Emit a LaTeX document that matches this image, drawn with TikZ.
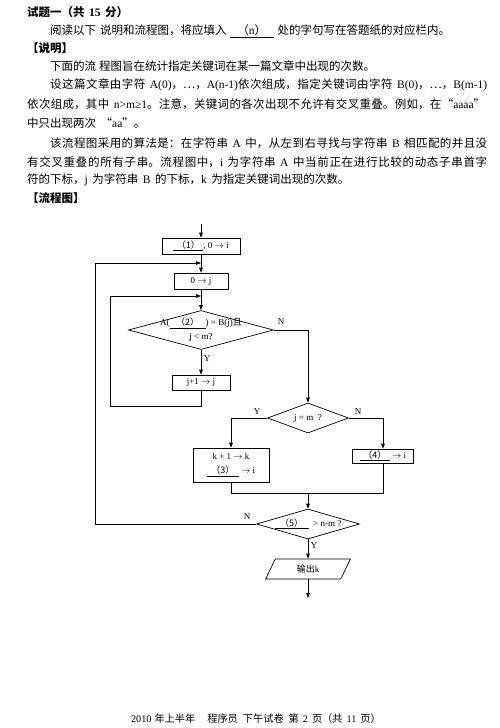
\documentclass[tikz,border=0pt]{standalone}
\usepackage{fontspec}
\setmainfont{Noto Sans CJK SC}
\newfontfamily\zh{Noto Sans CJK SC}
\newfontfamily\en{Liberation Serif}
\usetikzlibrary{arrows.meta,shapes.geometric}
\XeTeXlinebreaklocale "zh"
\XeTeXlinebreakskip=0pt plus 2pt minus 0.5pt
\newcommand\ws{\hspace{4.5pt}}
\newcommand\jl[2]{\parbox[c]{#1}{\tolerance=9999\parfillskip=0pt\relax #2}}
\newcommand\bodyfont{\fontsize{11.5}{14}\selectfont}
\newcommand\chartfont{\en\fontsize{9}{14}\selectfont}
\begin{document}
\begin{tikzpicture}[x=1pt,y=-1pt,
  txt/.style={anchor=west, inner sep=0, font=\bodyfont},
  box/.style={draw, line width=0.7pt, inner sep=0, align=center, font=\chartfont},
  dec/.style={draw, diamond, line width=0.7pt, inner sep=0},
  lab/.style={inner sep=0, align=center, font=\chartfont},
  arr/.style={-{Triangle[length=5pt,width=3.6pt]}, line width=0.7pt},
  ln/.style={line width=0.7pt}]
\useasboundingbox (0,0) rectangle (500,728);
% ---- text ----
\node[txt] (l1) at (27,12) {\bfseries 试题一（共\ws{\en\bfseries 15}\ws 分）};
\node[txt] (l2) at (50,31) {阅读以下\hspace{4pt}说明和流程图，将应填入\hspace{3pt}\underline{\makebox[44pt]{（{\en n}）}}\hspace{4pt}处的字句写在答题纸的对应栏内。};
\node[txt] (l3) at (27,48) {\bfseries 【说明】};
\node[txt] (l4) at (50,66) {下面的流\hspace{3pt}程图旨在统计指定关键词在某一篇文章中出现的次数。};
\node[txt] (l5) at (50,85) {\jl{437pt}{设这篇文章由字符\ws{\en A(0)}，…，{\en A(n-1)}依次组成，指定关键词由字符\ws{\en B(0)}，…，{\en B(m-1)}}};
\node[txt] (l6) at (27,104) {\jl{458pt}{依次组成，其中\ws{\en n>m≥1}。注意，关键词的各次出现不允许有交叉重叠。例如，在“{\en aaaa}”}};
\node[txt] (l7) at (27,123) {中只出现两次\ws“{\en aa}”。};
\node[txt] (l8) at (50,143) {\jl{437pt}{该流程图采用的算法是：在字符串\ws{\en A}\ws 中，从左到右寻找与字符串\ws{\en B}\ws 相匹配的并且没}};
\node[txt] (l9) at (27,162) {\jl{460pt}{有交叉重叠的所有子串。流程图中，{\en i}\ws 为字符串\ws{\en A}\ws 中当前正在进行比较的动态子串首字}};
\node[txt] (l10) at (27,180) {符的下标，{\en j}\ws 为字符串\ws{\en B}\ws 的下标，{\en k}\ws 为指定关键词出现的次数。};
\node[txt] (l11) at (27,198) {\bfseries 【流程图】};
% ---- flowchart ----
\coordinate (s0) at (201,224);
\node[box, minimum width=78pt, minimum height=16pt] (b1) at (201,246) {\underline{\makebox[30pt]{\zh （1）}}, 0 $\rightarrow$ i};
\node[box, minimum width=54pt, minimum height=16pt] (b2) at (201,281) {0 $\rightarrow$ j};
\node[dec, minimum width=145pt, minimum height=39pt] (d1) at (201,330) {};
\node[lab] (t1) at (201,330) {A(\underline{\makebox[36pt]{\zh （2）}}) = B(j){\zh 且}\\j < m?};
\node[box, minimum width=58pt, minimum height=15pt] (b3) at (201,382.5) {j+1 $\rightarrow$ j};
\node[dec, minimum width=81pt, minimum height=30pt] (d2) at (308,418) {};
\node[lab] (t2) at (308,418) {j = m\ \ ?};
\node[box, minimum width=76pt, minimum height=34pt] (b4) at (231,465) {k + 1 $\rightarrow$ k\\\underline{\makebox[32pt]{\zh （3）}} $\rightarrow$ i};
\node[box, minimum width=61pt, minimum height=14pt] (b5) at (383,456) {\underline{\makebox[30pt]{\zh （4）}}\ $\rightarrow$ i};
\node[dec, minimum width=103pt, minimum height=30pt] (d3) at (308,524) {};
\node[lab] (t3) at (308,524) {\underline{\makebox[34pt]{\zh （5）}}\ \ > n-m ?};
\node[draw, trapezium, trapezium left angle=68, trapezium right angle=112, trapezium stretches=true, minimum width=85pt, minimum height=20pt, inner sep=0, line width=0.7pt, font=\chartfont] (o1) at (308,569) {{\zh 输出}k};
\coordinate (e0) at (308,598);
\coordinate (j0) at (201,263);
\coordinate (j1) at (201,296);
\coordinate (lp1) at (110,406);
\coordinate (lp2) at (95,524);
\coordinate (m1) at (308,493);
\draw[arr] (s0) -- (b1);
\draw[arr] (b1) -- (b2);
\draw[arr] (b2) -- (d1);
\draw[arr] (d1) -- (b3);
\draw[arr] (b3.south) |- (lp1) |- (j1);
\draw[arr] (d1.east) -| (d2.north);
\draw[arr] (d2.west) -| (b4.north);
\draw[arr] (d2.east) -| (b5.north);
\draw[ln] (b4.south) |- (m1);
\draw[ln] (b5.south) |- (m1);
\draw[arr] (m1) -- (d3.north);
\draw[arr] (d3.west) -- (lp2) |- (j0);
\draw[arr] (d3) -- (o1);
\draw[arr] (o1) -- (e0);
% labels
\node[lab] (n1) at (281,322) {N};
\node[lab] (y1) at (207,359) {Y};
\node[lab] (y2) at (257,412) {Y};
\node[lab] (n2) at (358,412) {N};
\node[lab] (n3) at (247,517) {N};
\node[lab] (y3) at (314,546) {Y};
% footer
\node[inner sep=0, font=\fontsize{10.2}{12}\selectfont] (ft) at (256,719) {{\en 2010}\hspace{3pt}年上半年\hspace{12pt}程序员\hspace{5pt}下午试卷\hspace{5pt}第\hspace{4pt}{\en 2}\hspace{4pt}页（共\hspace{4pt}{\en 11}\hspace{4pt}页）};
\end{tikzpicture}
\end{document}
